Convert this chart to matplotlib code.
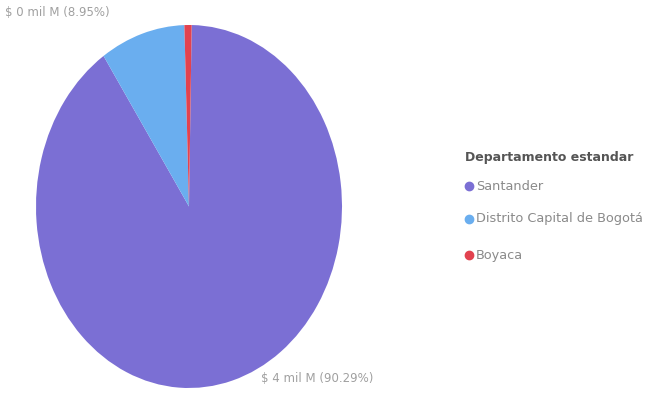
import matplotlib.pyplot as plt

# Datos
departamentos = ["Santander", "Distrito Capital de Bogotá", "Boyaca"]
porcentajes = [90.29, 8.95, 0.76]
etiquetas = {"Santander": "$ 4 mil M (90.29%)", "Distrito Capital de Bogotá": "$ 0 mil M (8.95%)"}
colores = ["#7b6fd4", "#6aaeef", "#e2424f"]

W, H = 655, 417
fig = plt.figure(figsize=(W / 100, H / 100), dpi=100)

# pie area (slightly oval, as in the scan)
ax = fig.add_axes([36 / W, 1 - 388 / H, 306 / W, 363 / H])
ax.pie(porcentajes, colors=colores, startangle=89, counterclock=False,
       wedgeprops={"linewidth": 0})
ax.set_aspect("auto")
ax.set_xlim(-1, 1)
ax.set_ylim(-1, 1)
ax.axis("off")

# data labels
fig.text(5 / W, 1 - 13 / H, etiquetas["Distrito Capital de Bogotá"],
         fontsize=8.5, color="#a0a0a0", va="center", ha="left")
fig.text(261 / W, 1 - 378 / H, etiquetas["Santander"],
         fontsize=8.5, color="#a0a0a0", va="center", ha="left")

# legend
fig.text(465 / W, 1 - 157 / H, "Departamento estandar", fontsize=9,
         fontweight="bold", color="#555555", va="center", ha="left")
ys = [186, 219, 255]
for nombre, c, y in zip(departamentos, colores, ys):
    fig.add_artist(plt.Line2D([469 / W], [1 - y / H], marker="o", markersize=6,
                              color=c, linestyle="none", transform=fig.transFigure))
    fig.text(476 / W, 1 - y / H, nombre, fontsize=9.3, color="#8a8a8a",
             va="center", ha="left")

fig.savefig("out.png", dpi=100)
